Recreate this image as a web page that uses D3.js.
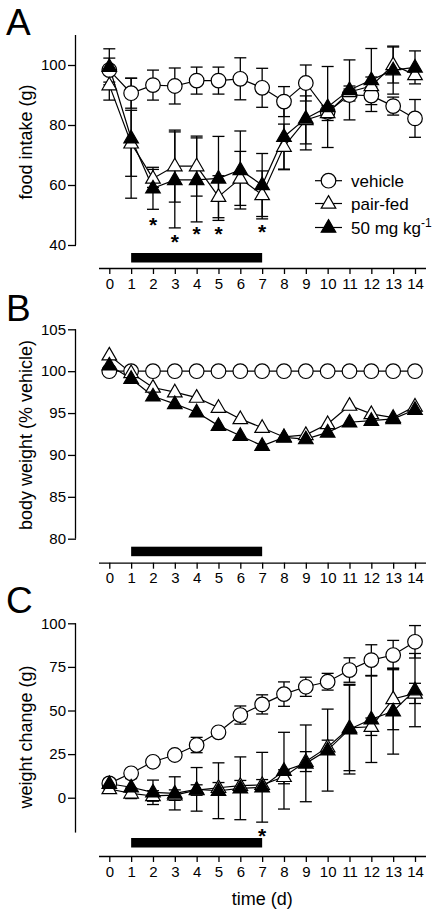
<!DOCTYPE html>
<html>
<head>
<meta charset="utf-8">
<script src="https://cdn.jsdelivr.net/npm/d3@7"></script>
<style>
  html, body { margin: 0; padding: 0; background: #fff; }
  svg { display: block; }
  text { font-family: "Liberation Sans", Arial, sans-serif; fill: #000; }
</style>
</head>
<body>
<svg id="chart" width="440" height="915"></svg>
<script>
// ---------------- data ----------------
const days = [0,1,2,3,4,5,6,7,8,9,10,11,12,13,14];
const dayTicks = ["0","1","2","3","4","5","6","7","8","9","10","11","12","13","14"];
const seriesNames = ["vehicle", "pair-fed", "50 mg kg"];
const treatment = [1, 7];

// Panel A: food intake (g)
const foodVehicle    = [98.3, 90.6, 93.3, 93.0, 94.8, 94.8, 95.4, 92.4, 87.8, 94.0, 84.4, 90.0, 89.8, 86.3, 82.2];
const foodVehicleErr = [4, 5, 5, 6, 4.5, 4.5, 7, 6.5, 5, 6, 2, 2, 3, 3, 6.3];
const foodPair       = [93.3, 73.9, 62.2, 66.3, 66.3, 56.1, 62.2, 56.7, 72.8, 81.7, 84.0, 91.0, 93.0, 100.0, 96.7];
const foodPairErr    = [5, 11, 3, 12, 10, 7, 9, 8, 7.5, 8, 2.5, 2, 3, 6, 1.5];
const foodDrug       = [99.4, 75.6, 58.9, 61.7, 61.7, 62.2, 65.0, 60.0, 76.1, 82.2, 86.0, 91.7, 95.0, 98.3, 99.2];
const foodDrugErr    = [6, 20, 7, 16, 14, 14, 13, 10.5, 11, 10.5, 13.5, 10, 10.5, 8, 5.5];
const foodTicks      = [40, 60, 80, 100];
const foodStarDays   = [2, 3, 4, 5, 7];
const foodStarVals   = [47.8, 42.2, 45.0, 45.0, 45.6];

// Panel B: body weight (% vehicle)
const bwVehicle = [100, 100, 100, 100, 100, 100, 100, 100, 100, 100, 100, 100, 100, 100, 100];
const bwPair    = [101.9, 99.8, 98.05, 97.5, 96.85, 95.65, 94.3, 93.25, 92.15, 92.4, 93.7, 95.9, 94.9, 94.45, 95.8];
const bwDrug    = [100.7, 99.1, 97.0, 96.1, 95.1, 93.5, 92.3, 91.1, 92.1, 91.9, 92.7, 93.9, 94.1, 94.3, 95.4];
const bwTicks   = [80, 85, 90, 95, 100, 105];

// Panel C: weight change (g)
const wcVehicle    = [8.2, 14.0, 20.6, 24.5, 30.2, 37.5, 47.4, 53.5, 59.4, 63.6, 66.5, 73.2, 78.9, 81.8, 89.4];
const wcVehicleErr = [2, 2, 2, 2, 4.4, 2, 5.2, 5.5, 7, 5.5, 4.8, 7, 8.8, 8.4, 9.3];
const wcPair       = [5.0, 2.5, 1.0, 1.5, 4.4, 5.7, 6.9, 7.4, 12.0, 20.7, 29.0, 40.0, 40.7, 56.6, 59.8];
const wcPairErr    = [2, 3, 3, 3, 3, 3, 3, 3, 4, 5.7, 4, 24.5, 5, 17.6, 5.8];
const wcDrug       = [8.0, 6.0, 3.1, 2.5, 4.8, 4.0, 5.4, 6.0, 15.5, 19.7, 27.3, 39.3, 45.0, 49.6, 61.7];
const wcDrugErr    = [3, 5, 7, 9.5, 12.5, 16, 18, 20, 22, 22, 23.5, 25.7, 24.8, 24.6, 21];
const wcTicks      = [0, 25, 50, 75, 100];
const wcStarDays   = [7];
const wcStarVals   = [-20.2];

// ---------------- drawing ----------------
const svg = d3.select("#chart");
const x = d3.scaleLinear().domain([0, 14]).range([109.3, 415]);

const panels = [
  { letter: "A", letterY: 35, domain: [40, 110], range: [245, 35], ticks: foodTicks,
    label: "food intake (g)", labelY: 142, axisY: 268, barY: 253,
    series: [[foodVehicle, foodVehicleErr], [foodPair, foodPairErr], [foodDrug, foodDrugErr]],
    stars: [foodStarDays, foodStarVals], legend: true },
  { letter: "B", letterY: 321, domain: [80, 105], range: [538.7, 329.3], ticks: bwTicks,
    label: "body weight (% vehicle)", labelY: 435, axisY: 562.7, barY: 546.7,
    series: [[bwVehicle, null], [bwPair, null], [bwDrug, null]],
    stars: null, legend: false },
  { letter: "C", letterY: 613, domain: [-20, 100], range: [832.6, 623.3], ticks: wcTicks,
    label: "weight change (g)", labelY: 737, axisY: 856, barY: 838,
    series: [[wcVehicle, wcVehicleErr], [wcPair, wcPairErr], [wcDrug, wcDrugErr]],
    stars: [wcStarDays, wcStarVals], legend: false, xTitle: "time (d)" }
];

const triPath = d3.symbol().type(d3.symbolTriangle).size(92)();
function drawMarker(g, kind, cx, cy) {
  if (kind === 0) {
    g.append("circle").attr("cx", cx).attr("cy", cy).attr("r", 7.3)
      .attr("fill", "#fff").attr("stroke", "#000").attr("stroke-width", 1.2);
  } else {
    g.append("path").attr("d", triPath)
      .attr("transform", `translate(${cx},${cy + 0.5})`)
      .attr("fill", kind === 2 ? "#000" : "#fff")
      .attr("stroke", "#000").attr("stroke-width", 1.2);
  }
}

panels.forEach(p => {
  const y = d3.scaleLinear().domain(p.domain).range(p.range);
  const g = svg.append("g");

  // panel letter
  g.append("text").attr("x", 6).attr("y", p.letterY).attr("font-size", 37).text(p.letter);

  // y axis
  const yAxis = d3.axisLeft(y).tickValues(p.ticks).tickSize(8).tickPadding(2);
  const ya = g.append("g").attr("transform", "translate(76,0)").call(yAxis);
  ya.select(".domain").attr("d", `M-0.5,${p.range[1]}V${p.range[0]}`).attr("stroke-width", 1.3);
  ya.selectAll(".tick line").attr("stroke-width", 1.3);
  ya.selectAll(".tick text").attr("font-size", 15).attr("font-family", "Liberation Sans, Arial, sans-serif");

  // y label
  g.append("text")
    .attr("transform", `translate(32,${p.labelY}) rotate(-90)`)
    .attr("text-anchor", "middle").attr("font-size", 18).text(p.label);

  // x axis
  const xAxis = d3.axisBottom(x).tickValues(days).tickFormat((d, i) => dayTicks[i]).tickSize(6).tickPadding(4);
  const xa = g.append("g").attr("transform", `translate(0,${p.axisY})`).call(xAxis);
  xa.select(".domain").attr("d", "M99,0.5H426").attr("stroke-width", 1.3);
  xa.selectAll(".tick line").attr("stroke-width", 1.3);
  xa.selectAll(".tick text").attr("font-size", 15).attr("font-family", "Liberation Sans, Arial, sans-serif");

  if (p.xTitle) {
    g.append("text").attr("x", x(7)).attr("y", 905).attr("text-anchor", "middle")
      .attr("font-size", 18).text(p.xTitle);
  }

  // treatment bar
  g.append("rect").attr("x", x(treatment[0])).attr("y", p.barY)
    .attr("width", x(treatment[1]) - x(treatment[0])).attr("height", 9.5).attr("fill", "#000");

  // error bars
  p.series.forEach(([vals, errs]) => {
    if (!errs) return;
    days.forEach((d, i) => {
      const cx = x(d), lo = y(vals[i] - errs[i]), hi = y(vals[i] + errs[i]);
      g.append("line").attr("x1", cx).attr("x2", cx).attr("y1", lo).attr("y2", hi)
        .attr("stroke", "#000").attr("stroke-width", 1.3);
      [lo, hi].forEach(yy => g.append("line").attr("x1", cx - 6).attr("x2", cx + 6)
        .attr("y1", yy).attr("y2", yy).attr("stroke", "#000").attr("stroke-width", 1.3));
    });
  });

  // lines
  const line = d3.line().x((d, i) => x(days[i])).y(d => y(d));
  p.series.forEach(([vals]) => {
    g.append("path").attr("d", line(vals)).attr("fill", "none")
      .attr("stroke", "#000").attr("stroke-width", 1.2);
  });

  // markers
  p.series.forEach(([vals], k) => {
    days.forEach((d, i) => drawMarker(g, k, x(d), y(vals[i])));
  });

  // significance stars
  if (p.stars) {
    p.stars[0].forEach((d, i) => {
      g.append("text").attr("x", x(d)).attr("y", y(p.stars[1][i]) + 10.5)
        .attr("text-anchor", "middle").attr("font-size", 21).attr("font-weight", "bold").text("*");
    });
  }

  // legend
  if (p.legend) {
    const rows = [180.7, 203.5, 227.5];
    rows.forEach((ry, k) => {
      g.append("line").attr("x1", 315).attr("x2", 342).attr("y1", ry).attr("y2", ry)
        .attr("stroke", "#000").attr("stroke-width", 1.2);
      drawMarker(g, k, 328.5, ry);
      const t = g.append("text").attr("x", 351).attr("y", ry + 6).attr("font-size", 17);
      t.append("tspan").text(seriesNames[k]);
      if (k === 2) t.append("tspan").attr("dy", -7).attr("font-size", 12).text("-1");
    });
  }
});
</script>
</body>
</html>
